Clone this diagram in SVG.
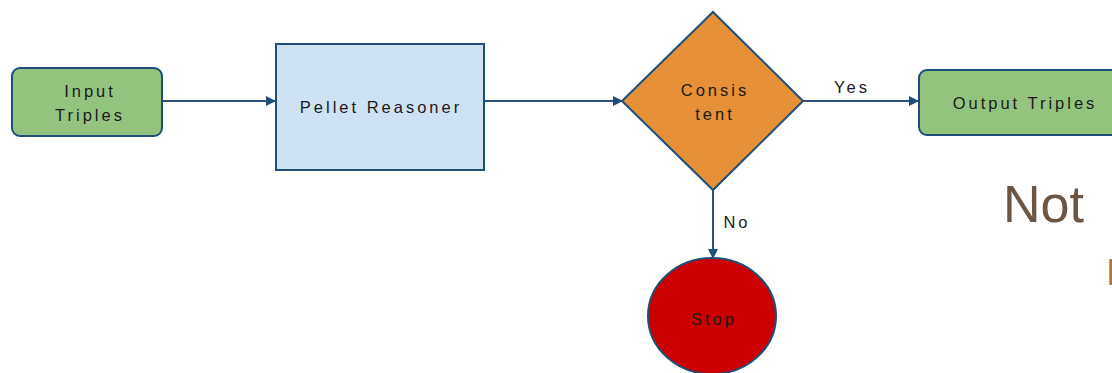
<svg xmlns="http://www.w3.org/2000/svg" width="1112" height="373" viewBox="0 0 1112 373">
<style>
  .lbl { font-family: "Liberation Sans", Arial, sans-serif; font-size: 16.5px; letter-spacing: 3px; fill: #1a1a1a; text-anchor: middle; }
  .edge { stroke: #2b4f7e; stroke-width: 2; fill: none; }
  .node { stroke: #1f4e79; stroke-width: 2; }
</style>
<defs>
  <marker id="arr" markerWidth="10" markerHeight="10" refX="9" refY="5" orient="auto" markerUnits="userSpaceOnUse">
    <path d="M0,0 L10,5 L0,10 Z" fill="#1f4e79"/>
  </marker>
</defs>
<rect width="1112" height="373" fill="#ffffff"/>
<g id="connectors">
  <line class="edge" x1="162" y1="101" x2="275" y2="101" marker-end="url(#arr)"/>
  <line class="edge" x1="484" y1="101" x2="622" y2="101" marker-end="url(#arr)"/>
  <line class="edge" x1="803" y1="101" x2="918" y2="101" marker-end="url(#arr)"/>
  <line class="edge" x1="713" y1="190" x2="713" y2="258" marker-end="url(#arr)"/>
  <text class="lbl" x="852" y="93">Yes</text>
  <text class="lbl" x="737" y="228">No</text>
</g>
<g id="input">
  <rect class="node" x="12" y="68" width="150" height="68" rx="8" fill="#93c47d"/>
  <text class="lbl" x="90" y="97">Input</text>
  <text class="lbl" x="90" y="121">Triples</text>
</g>
<g id="pellet">
  <rect class="node" x="276" y="44" width="208" height="126" fill="#cfe2f3"/>
  <text class="lbl" x="381" y="113">Pellet Reasoner</text>
</g>
<g id="consistent">
  <polygon class="node" points="713,12 803,101 713,190 622,101" fill="#e69138"/>
  <text class="lbl" x="715" y="96">Consis</text>
  <text class="lbl" x="715" y="120">tent</text>
</g>
<g id="output">
  <rect class="node" x="919" y="70" width="210" height="65" rx="8" fill="#93c47d"/>
  <text class="lbl" x="1025" y="109">Output Triples</text>
</g>
<g id="stop">
  <ellipse class="node" cx="712" cy="316" rx="64" ry="58" fill="#cc0000"/>
  <text class="lbl" x="714" y="325">Stop</text>
</g>
<text x="1003" y="222" font-family="Liberation Sans, Arial, sans-serif" font-size="52" fill="#6b5646">Not</text>
<text x="1106" y="285" font-family="Liberation Sans, Arial, sans-serif" font-size="36" fill="#b8733a">I</text>
</svg>
